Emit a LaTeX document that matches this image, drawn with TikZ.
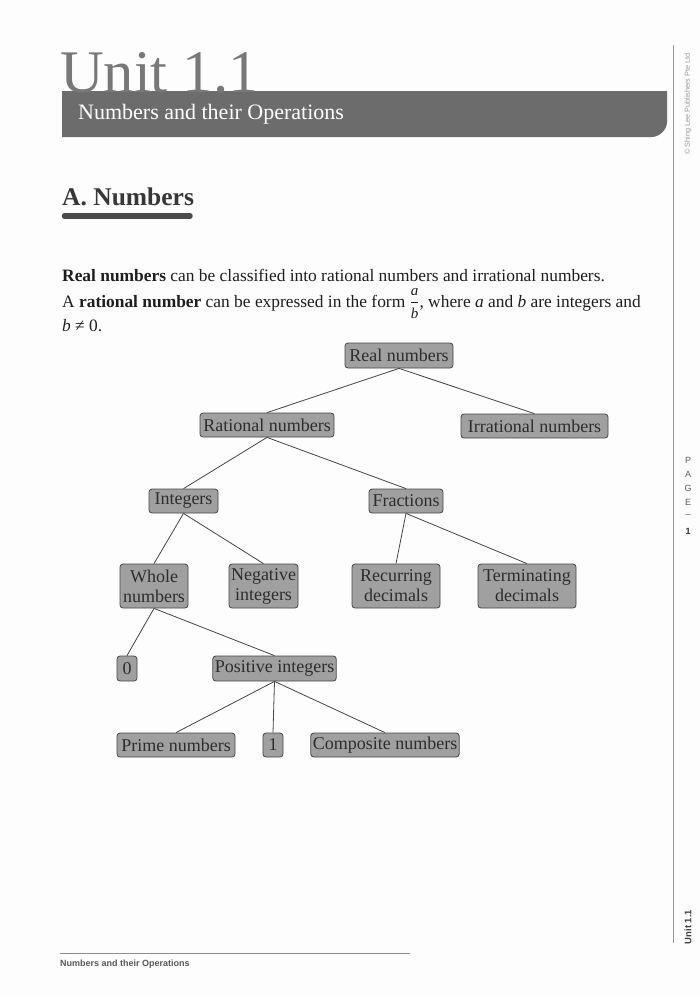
\documentclass[tikz,border=0pt]{standalone}
\usepackage{amsmath}
\usepackage{fontspec}
\setmainfont{Liberation Serif}
\newfontfamily\sidefont{Liberation Sans}
\definecolor{pagebg}{RGB}{253,253,253}
\definecolor{titlegray}{RGB}{120,120,120}
\definecolor{bannergray}{RGB}{108,108,108}
\definecolor{headgray}{RGB}{55,55,55}
\definecolor{bodytext}{RGB}{30,30,30}
\definecolor{nodefill}{RGB}{160,160,160}
\definecolor{nodeline}{RGB}{70,70,70}
\definecolor{nodetext}{RGB}{45,45,45}
\definecolor{sidegray}{RGB}{150,150,150}
\newcommand{\fracab}{$\genfrac{}{}{0.5pt}{0}{\text{\fontsize{15}{15}\selectfont\itshape a}}{\text{\fontsize{15}{15}\selectfont\itshape b}}$}
\tikzset{
  box/.style={draw=nodeline, fill=nodefill, rounded corners=3pt, line width=0.8pt,
    inner xsep=2pt, inner ysep=0pt, minimum height=24pt, text=nodetext,
    font=\fontsize{18}{19}\selectfont, align=center},
  tbox/.style={box, minimum height=44pt, font=\fontsize{18}{20}\selectfont},
  link/.style={draw=nodeline, line width=0.8pt},
  para/.style={anchor=base west, inner sep=0pt, text=bodytext, font=\fontsize{17.4}{19}\selectfont},
  side/.style={inner sep=0pt, font=\sidefont\fontsize{9}{10}\selectfont, text=black!65}
}
\begin{document}
\begin{tikzpicture}[x=1pt,y=-1pt]
\useasboundingbox (0,0) rectangle (700,997);
\fill[pagebg] (0,0) rectangle (700,997);
% banner
\fill[bannergray] (62,91) -- (667,91) -- (667,122) .. controls (667,130.3) and (658.7,137) .. (652,137) -- (62,137) -- cycle;
\node[anchor=base west, inner sep=0pt, text depth=0pt, text=titlegray, font=\fontsize{60.5}{60}\selectfont] (title) at (60,92) {Unit 1.1};
\node[anchor=base west, inner sep=0pt, text=white, font=\fontsize{22}{22}\selectfont] (subtitle) at (78,119.5) {Numbers and their Operations};
% section heading
\node[anchor=base west, inner sep=0pt, text=headgray, font=\bfseries\fontsize{25.5}{26}\selectfont] (sec) at (62,205) {A. Numbers};
\draw[headgray!90, line width=5.5pt, line cap=round] (64.5,216) -- (190,216);
% paragraph
\node[para] (p1) at (62,281) {\textbf{Real numbers} can be classified into rational numbers and irrational numbers.};
\node[para] (p2) at (62,307) {A \textbf{rational number} can be expressed in the form \fracab, where \textit{a} and \textit{b} are integers and};
\node[para] (p3) at (62,331) {\textit{b} ≠ 0.};
% tree
\node[box, minimum width=108pt, minimum height=25pt] (real) at (399,355.5) {Real numbers};
\node[box, minimum width=134pt] (rat) at (267,425) {Rational numbers};
\node[box, minimum width=147pt] (irr) at (534.5,426) {Irrational numbers};
\node[box, minimum width=69pt] (int) at (183.5,501) {Integers};
\node[box, minimum width=74pt] (frac) at (406,501) {Fractions};
\node[tbox, minimum width=68pt] (whole) at (154,586) {Whole\\numbers};
\node[tbox, minimum width=69pt] (neg) at (263.5,586) {Negative\\integers};
\node[tbox, minimum width=88pt] (rec) at (396,586) {Recurring\\decimals};
\node[tbox, minimum width=98pt] (term) at (527,586) {Terminating\\decimals};
\node[box, minimum width=20pt, minimum height=25pt] (zero) at (127,668.5) {0};
\node[box, minimum width=123pt, minimum height=25pt] (pos) at (274.5,668.5) {Positive integers};
\node[box, minimum width=118pt] (prime) at (176,745) {Prime numbers};
\node[box, minimum width=20pt] (one) at (273,745) {1};
\node[box, minimum width=148pt] (comp) at (385,745) {Composite numbers};
\draw[link] (real.south) -- (rat.north);
\draw[link] (real.south) -- (irr.north);
\draw[link] (rat.south) -- (int.north);
\draw[link] (rat.south) -- (frac.north);
\draw[link] (int.south) -- (whole.north);
\draw[link] (int.south) -- (neg.north);
\draw[link] (frac.south) -- (rec.north);
\draw[link] (frac.south) -- (term.north);
\draw[link] (whole.south) -- (zero.north);
\draw[link] (whole.south) -- (pos.north);
\draw[link] (pos.south) -- (prime.north);
\draw[link] (pos.south) -- (one.north);
\draw[link] (pos.south) -- (comp.north);
% right margin
\draw[sidegray, line width=0.8pt] (673,45) -- (673,943);
\node[side, rotate=90, font=\sidefont\fontsize{7.3}{8}\selectfont, text=black!40] (copy) at (688,104) {© Shing Lee Publishers Pte Ltd};
\node[side] (pgP) at (688,460) {P};
\node[side] (pgA) at (688,474) {A};
\node[side] (pgG) at (688,488) {G};
\node[side] (pgE) at (688,502) {E};
\node[side] (pgD) at (688,516) {–};
\node[side, font=\sidefont\bfseries\fontsize{9}{10}\selectfont, text=black!80] (pgN) at (688,531) {1};
\node[side, rotate=90, font=\sidefont\bfseries\fontsize{9.5}{10}\selectfont, text=black!75] (unit) at (688,927) {Unit 1.1};
% footer
\draw[black!45, line width=0.6pt, dash pattern=on 1.5pt off 0.5pt] (60,953) -- (410,953);
\node[anchor=base west, inner sep=0pt, font=\sidefont\bfseries\fontsize{9}{10}\selectfont, text=black!65] (foot) at (60,966) {Numbers and their Operations};
\end{tikzpicture}
\end{document}
